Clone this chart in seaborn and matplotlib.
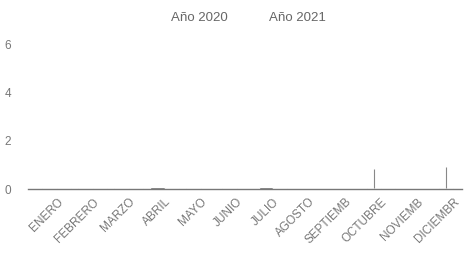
import matplotlib
matplotlib.use("Agg")
import matplotlib.pyplot as plt
import seaborn as sns
import pandas as pd
from matplotlib.patches import Patch

meses = ["ENERO", "FEBRERO", "MARZO", "ABRIL", "MAYO", "JUNIO", "JULIO",
         "AGOSTO", "SEPTIEMB", "OCTUBRE", "NOVIEMB", "DICIEMBR"]
anio_2020 = [0.06, 0.03, 0.04, 0.08, 0.03, 0.03, 0.08, 0.02, 0.02, 0.04, 0.02, 0.05]
anio_2021 = [0.04, 0.03, 0.03, 0.06, 0.02, 0.02, 0.06, 0.02, 0.02, 0.03, 0.02, 0.04]
err_2020 = [0, 0, 0, 0, 0, 0, 0, 0, 0, 0.8, 0, 0.85]
err_2021 = [0, 0, 0, 0, 0, 0, 0, 0, 0, 0, 0, 0]
series = ["Año 2020", "Año 2021"]

df = pd.DataFrame({
    "mes": meses * 2,
    "valor": anio_2020 + anio_2021,
    "serie": [series[0]] * len(meses) + [series[1]] * len(meses),
})

sns.set_theme(style="white")
plt.rcParams['font.family'] = ['Liberation Sans', 'DejaVu Sans']
fig = plt.figure(figsize=(4.66, 2.61), dpi=100)
ax = fig.add_axes([28 / 466, 72 / 261, 434 / 466, 159 / 261])

sns.barplot(data=df, x="mes", y="valor", hue="serie", order=meses,
            hue_order=series, palette=["#444444", "#666666"],
            errorbar=None, width=0.8, ax=ax, legend=False)

# error bars from data arrays, positioned on the drawn bars
bars = ax.patches
for bar, e in zip(bars, err_2020 + err_2021):
    if e > 0:
        cx = bar.get_x() + bar.get_width() / 2
        ax.vlines(cx, bar.get_height(), bar.get_height() + e,
                  color="#888888", lw=0.8)

ax.set_ylim(0, 6.6)
ax.set_yticks([0, 2, 4, 6])
ax.set_xlim(-0.8, 11.25)
ax.set_xlabel("")
ax.set_ylabel("")
for s in ax.spines.values():
    s.set_visible(False)
ax.spines["bottom"].set_visible(True)
ax.spines["bottom"].set_color("#777777")
ax.spines["bottom"].set_linewidth(1.0)
ax.tick_params(axis="y", colors="#777777", labelsize=8.5, length=0, pad=12)
ax.tick_params(axis="x", colors="#777777", labelsize=8.5, length=0, pad=5)
plt.setp(ax.get_xticklabels(), rotation=45, ha="right", rotation_mode="anchor")

handles = [Patch(facecolor="none", edgecolor="none") for _ in series]
fig.legend(handles, series, loc="upper center", bbox_to_anchor=(0.51, 1.0),
           ncol=2, frameon=False, fontsize=9.5, labelcolor="#666666",
           handlelength=0.8, columnspacing=1.5)

fig.savefig("out.png", dpi=100)
